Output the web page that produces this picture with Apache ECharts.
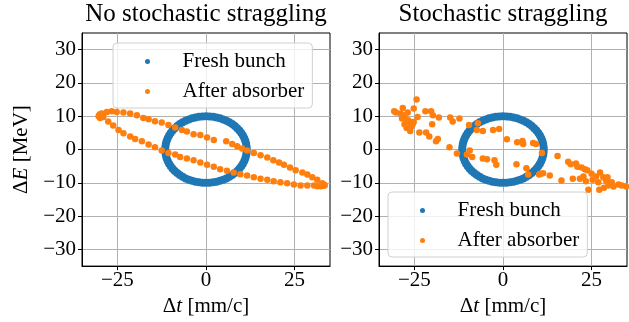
<!DOCTYPE html>
<html>
<head>
<meta charset="utf-8">
<script src="https://cdn.jsdelivr.net/npm/echarts@6/dist/echarts.min.js"></script>
<style>
  html, body { margin: 0; padding: 0; background: #fff; }
  #chart { width: 629px; height: 322px; }
</style>
</head>
<body>
<div id="chart"></div>
<script>
var titles = ['No stochastic straggling', 'Stochastic straggling']
var seriesNames = ['Fresh bunch', 'After absorber']
var xTicks = [-25, 0, 25]
var yTicks = [-30, -20, -10, 0, 10, 20, 30]

// fresh bunch, same ring in both panels
var freshDt = [
  11.5, 11.46, 11.33, 11.11, 10.81, 10.42, 9.96, 9.42, 8.81, 8.13, 7.39, 6.6, 5.75, 4.86, 3.93, 2.98, 2.0, 1.0, 0,
  -1.0, -2.0, -2.98, -3.93, -4.86, -5.75, -6.6, -7.39, -8.13, -8.81, -9.42, -9.96, -10.42, -10.81, -11.11, -11.33, -11.46, -11.5,
  -11.46, -11.33, -11.11, -10.81, -10.42, -9.96, -9.42, -8.81, -8.13, -7.39, -6.6, -5.75, -4.86, -3.93, -2.98, -2.0, -1.0, 0,
  1.0, 2.0, 2.98, 3.93, 4.86, 5.75, 6.6, 7.39, 8.13, 8.81, 9.42, 9.96, 10.42, 10.81, 11.11, 11.33, 11.46,
]
var freshDe = [
  0, 0.87, 1.74, 2.59, 3.42, 4.23, 5.0, 5.74, 6.43, 7.07, 7.66, 8.19, 8.66, 9.06, 9.4, 9.66, 9.85, 9.96, 10,
  9.96, 9.85, 9.66, 9.4, 9.06, 8.66, 8.19, 7.66, 7.07, 6.43, 5.74, 5.0, 4.23, 3.42, 2.59, 1.74, 0.87, 0,
  -0.87, -1.74, -2.59, -3.42, -4.23, -5.0, -5.74, -6.43, -7.07, -7.66, -8.19, -8.66, -9.06, -9.4, -9.66, -9.85, -9.96, -10,
  -9.96, -9.85, -9.66, -9.4, -9.06, -8.66, -8.19, -7.66, -7.07, -6.43, -5.74, -5.0, -4.23, -3.42, -2.59, -1.74, -0.87,
]

// after absorber, no straggling
var smoothDt = [
  -30.3, -30.1, -29.8, -29.4, -28.0, -26.6, -25.2, -23.3, -21.4, -19.5, -17.7, -16.2,
  -14.4, -12.5, -10.6, -8.7, -6.8, -5.4, -3.5, -1.6, 0.3, 2.2, 5.7, 7.4, 8.8, 10.2,
  11.6, 13.5, 15.4, 17.3, 19.0, 20.6, 22.0, 23.7, 25.3, 27.2, 28.6, 30.0, 31.4, 32.8,
  33.3, 33.5, 33.0, 32.4, 31.5, 30.5, 28.6, 26.7, 24.8, 22.9, 21.0, 19.1, 17.3, 15.4,
  13.5, 11.6, 9.7, 7.8, 5.9, 4.0, 2.2, 0.3, -1.6, -3.5, -5.4, -7.3, -8.7, -10.6,
  -12.5, -14.4, -16.2, -18.1, -20.0, -21.4, -23.3, -24.7, -26.2, -27.6, -29.0, -29.9,
]
var smoothDe = [
  10.0, 10.4, 10.7, 10.8, 11.3, 11.5, 11.3, 11.1, 10.8, 10.3, 9.5, 9.1,
  8.5, 8.1, 7.4, 6.6, 5.9, 5.4, 4.6, 4.4, 3.6, 2.9, 2.5, 1.7, 1.0, 0.3,
  -0.3, -1.0, -1.7, -2.4, -3.2, -3.9, -4.6, -5.4, -6.2, -6.9, -7.5, -8.3, -9.1, -10.1,
  -10.5, -10.8, -10.9, -11.0, -11.0, -10.8, -10.8, -10.8, -10.5, -10.1, -9.8, -9.5, -9.1, -8.8,
  -8.3, -7.8, -7.4, -6.9, -6.4, -5.9, -5.2, -4.6, -3.9, -3.2, -2.7, -2.2, -1.5, -1.0,
  -0.3, 0.7, 1.5, 2.5, 3.2, 3.9, 4.9, 5.9, 7.2, 8.4, 9.8, 9.5,
]

// after absorber, with straggling
var noisyDt = [
  -30.7, -30.2, -28.9, -28.3, -28.1, -28.5, -27.6, -27.8, -27.2, -26.9, -26.8, -26.4,
  -26.0, -25.9, -26.2, -25.5, -25.2, -25.2, -24.4, -24.1, -23.6, -21.9, -21.7, -20.8,
  -20.3, -19.8, -20.0, -18.9, -18.4, -18.1, -14.9, -14.2, -15.1, -12.3, -13.0, -10.2,
  -9.4, -9.6, -8.7, -7.1, -7.4, -5.7, -5.7, -4.5, -2.8, -2.4, -1.9, -1.1,
  1.1, 4.0, 5.5, 5.7, 8.5, 9.3, 11.0, 3.8, 6.6, 7.1, 10.2, 10.6, 11.3, 13.2,
  15.4, 16.5, 18.4, 19.1, 20.6, 21.0, 19.7, 21.7, 22.2, 22.7, 23.1, 23.8,
  23.4, 24.1, 25.0, 25.3, 26.3, 26.9, 27.4, 27.2, 28.3, 29.1, 29.5, 29.7,
  28.5, 30.7, 31.2, 32.6, 33.5, 34.8,
]
var noisyDe = [
  11.5, 11.1, 10.8, 12.5, 10.3, 9.3, 9.5, 7.6, 6.5, 11.1, 8.8, 8.4,
  7.2, 6.9, 5.6, 7.6, 8.3, 12.3, 15.0, 9.8, 5.1, 11.5, 5.1, 3.9,
  11.5, 10.3, 7.6, 2.5, 3.2, 9.6, 9.6, 8.4, 0.7, 9.3, -1.2, -1.5,
  -0.3, 7.4, -2.2, 7.9, 5.9, 5.6, -2.7, -2.9, 5.9, -3.2, -4.6, 6.2,
  3.1, 2.2, 2.6, 1.7, 2.0, 1.7, -1.0, -4.4, -5.6, -7.5, -7.5, -7.3, -7.1, -7.8,
  -1.9, -9.3, -3.7, -4.4, -4.2, -5.2, -8.8, -8.8, -5.4, -8.1, -5.9, -6.2,
  -9.5, -12.1, -7.3, -9.1, -8.1, -9.8, -6.9, -12.1, -8.3, -9.3, -8.3, -10.8,
  -11.5, -9.8, -11.1, -10.5, -10.8, -11.1,
]

var font = 'Liberation Serif'
var blue = '#1f77b4'
var orange = '#ff7f0e'
var fs = 21

var pairs = (xs, ys) => xs.map((x, i) => [x, ys[i]])
var minus = (v) => String(v).replace('-', '\u2212')
var rich = {
  g: { fontFamily: font, fontSize: fs, color: '#000' },
  i: { fontFamily: font, fontSize: fs, color: '#000', fontStyle: 'italic' },
}

var grids = [
  { left: 82, top: 33, width: 248, height: 238 },
  { left: 379, top: 33, width: 248, height: 238 },
]

var makeX = (idx) => ({
  type: 'value',
  gridIndex: idx,
  min: -35,
  max: 35,
  name: '{g|\u0394}{i|t}{g| [mm/c]}',
  nameLocation: 'middle',
  nameGap: 27,
  nameTextStyle: { rich: rich },
  axisLine: { show: true, onZero: false, lineStyle: { color: '#000', width: 1 } },
  axisTick: { show: true, length: 4, customValues: xTicks, lineStyle: { color: '#000' } },
  axisLabel: { customValues: xTicks, formatter: minus, fontFamily: font, fontSize: fs, color: '#000', margin: 4 },
  splitLine: { show: true, lineStyle: { color: '#b0b0b0', width: 1 } },
})

var makeY = (idx) => ({
  type: 'value',
  gridIndex: idx,
  min: -35,
  max: 35,
  name: idx === 0 ? '{g|\u0394}{i|E}{g| [MeV]}' : '',
  nameLocation: 'middle',
  nameGap: 50,
  nameTextStyle: { rich: rich },
  axisLine: { show: true, onZero: false, lineStyle: { color: '#000', width: 1 } },
  axisTick: { show: true, length: 4, customValues: yTicks, lineStyle: { color: '#000' } },
  axisLabel: { customValues: yTicks, formatter: minus, fontFamily: font, fontSize: fs, color: '#000', margin: 6 },
  splitLine: { show: true, lineStyle: { color: '#b0b0b0', width: 1 } },
})

var makeLegend = (left, top) => ({
  left: left,
  top: top,
  orient: 'vertical',
  data: seriesNames.map((n) => ({ name: n, icon: 'circle' })),
  itemWidth: 20,
  itemHeight: 5,
  itemGap: 9,
  padding: [8, 8, 6, 32],
  backgroundColor: 'rgba(255,255,255,0.8)',
  borderColor: '#d0d0d0',
  borderWidth: 1,
  borderRadius: 4,
  selectedMode: false,
  textStyle: { fontFamily: font, fontSize: fs, color: '#000', lineHeight: 21, padding: [0, 0, 0, 20] },
})

var makeScatter = (name, idx, data, color) => ({
  name: name,
  type: 'scatter',
  xAxisIndex: idx,
  yAxisIndex: idx,
  symbolSize: name === seriesNames[0] ? 8 : 6.5,
  itemStyle: { color: color, opacity: 1 },
  data: data,
})

var chart = echarts.init(document.getElementById('chart'))
chart.setOption({
  animation: false,
  title: titles.map((t, i) => ({
    text: t,
    left: grids[i].left + grids[i].width / 2,
    textAlign: 'center',
    top: 2,
    padding: 0,
    textStyle: { fontFamily: font, fontSize: 25, fontWeight: 'normal', color: '#000' },
  })),
  grid: grids.map((g) => Object.assign({ show: true, borderColor: '#000', borderWidth: 1, backgroundColor: 'transparent' }, g)),
  xAxis: [makeX(0), makeX(1)],
  yAxis: [makeY(0), makeY(1)],
  legend: [makeLegend(113, 43), makeLegend(388, 192)],
  series: [
    makeScatter(seriesNames[0], 0, pairs(freshDt, freshDe), blue),
    makeScatter(seriesNames[1], 0, pairs(smoothDt, smoothDe), orange),
    makeScatter(seriesNames[0], 1, pairs(freshDt, freshDe), blue),
    makeScatter(seriesNames[1], 1, pairs(noisyDt, noisyDe), orange),
  ],
})
</script>
</body>
</html>
